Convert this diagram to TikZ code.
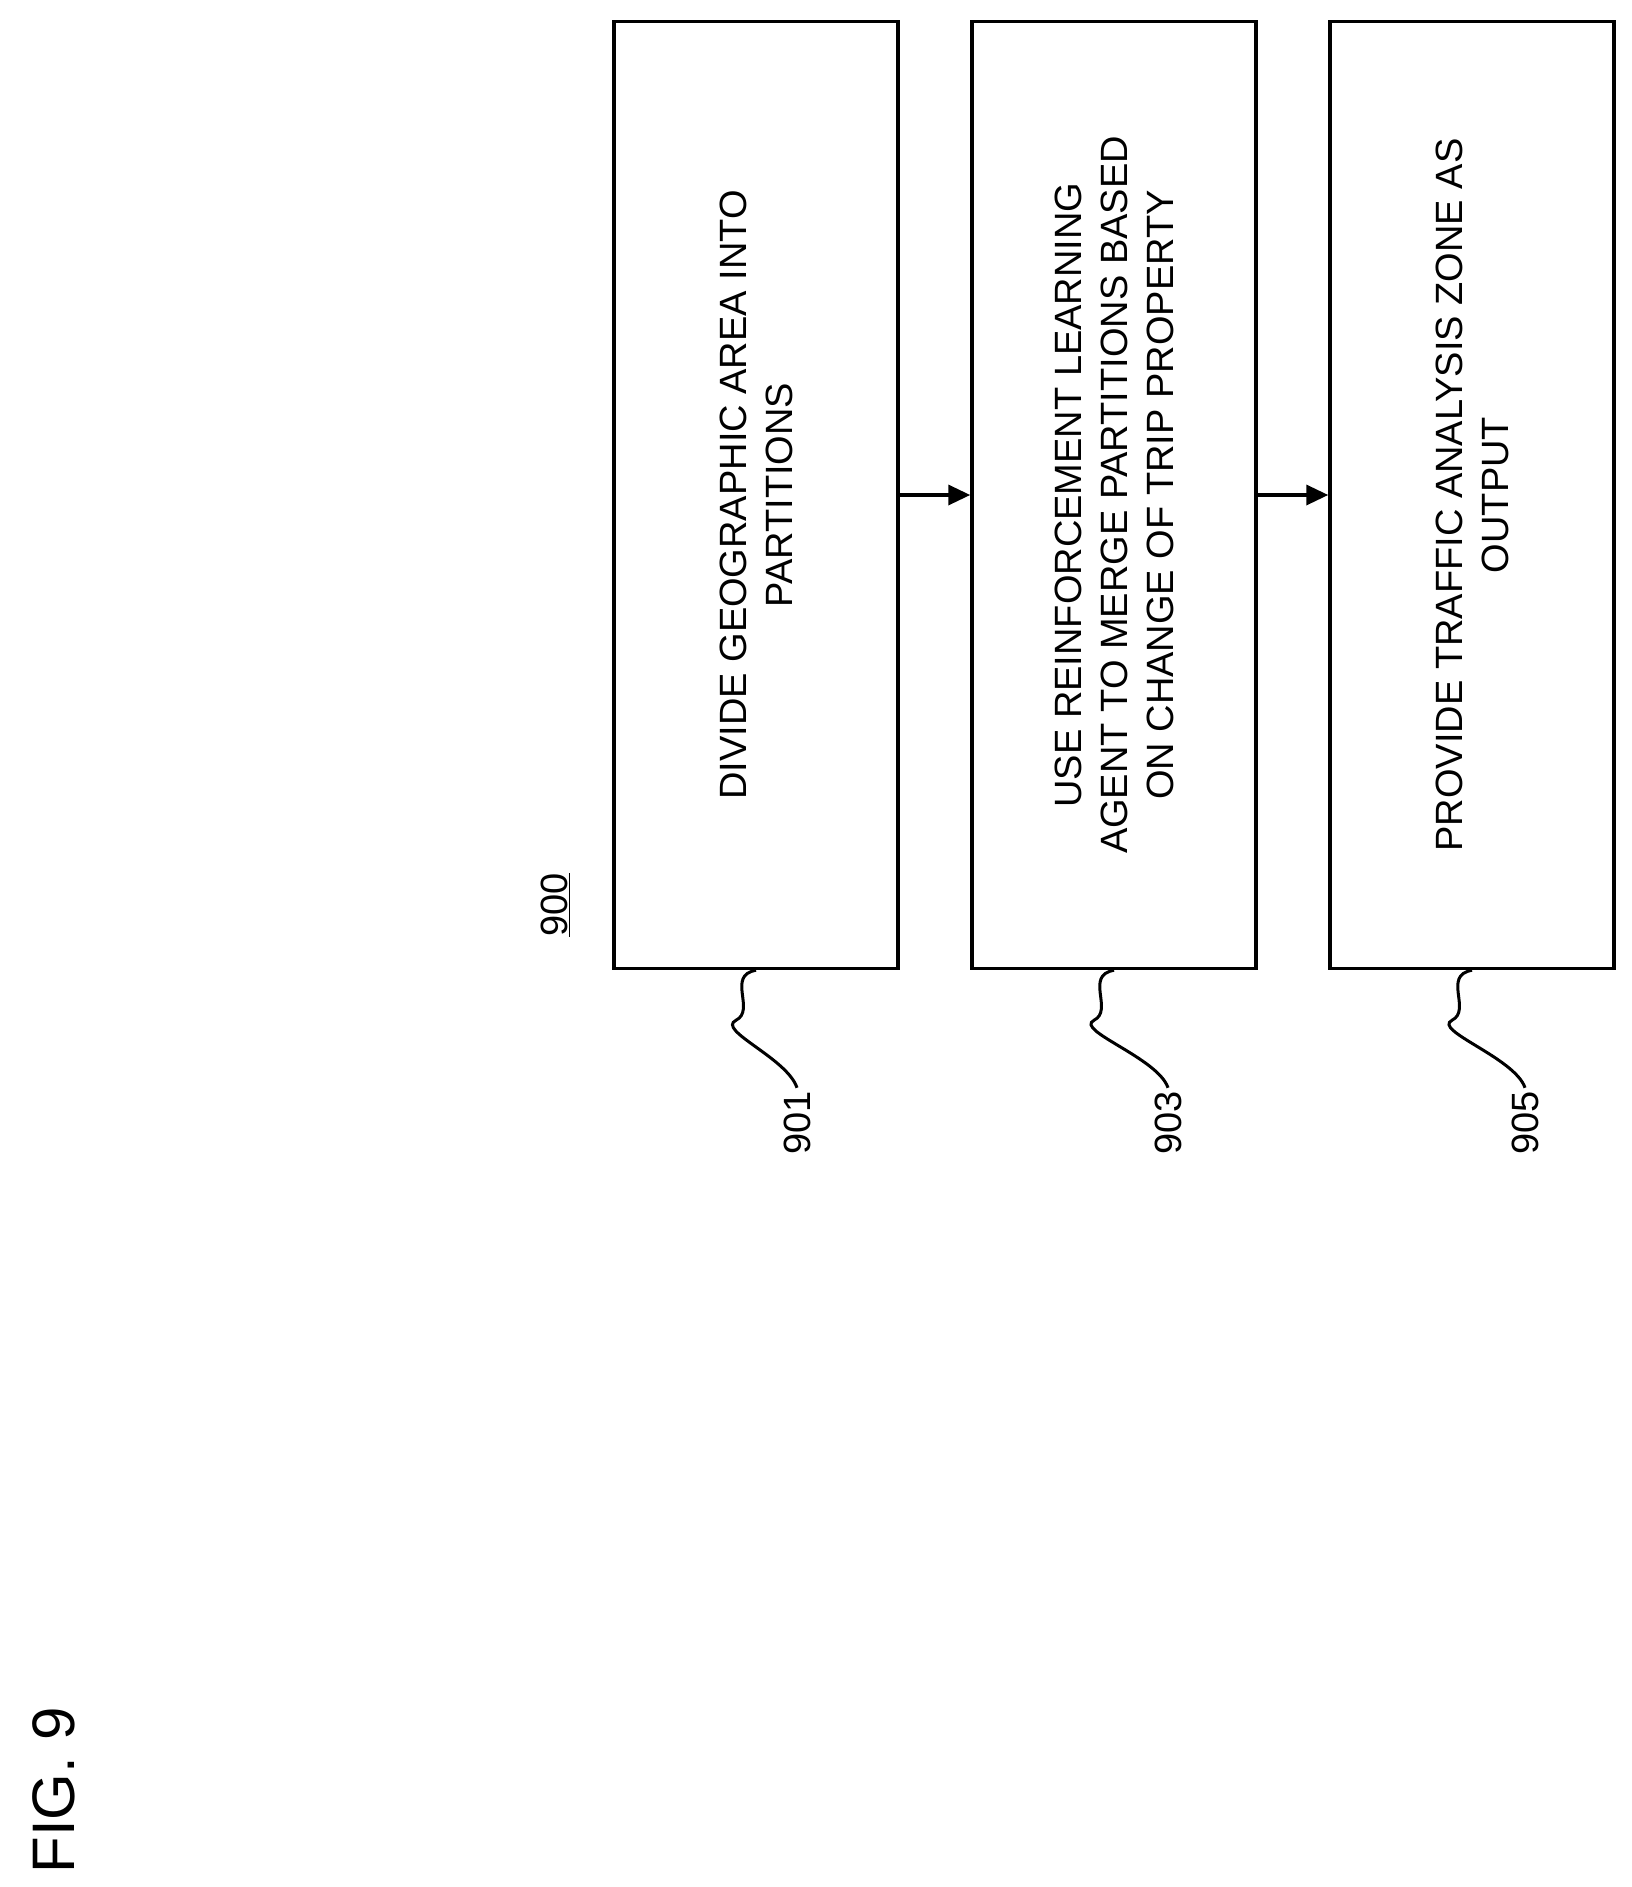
\documentclass[tikz,border=0pt]{standalone}
\usepackage{fontspec}
\setmainfont{Liberation Sans}
\usetikzlibrary{arrows.meta}
\begin{document}
\begin{tikzpicture}[x=1pt,y=-1pt,
  stepbox/.style={draw,line width=3.5pt,minimum width=947pt,minimum height=284pt,rotate=90,align=center,font=\fontsize{38}{46}\selectfont,inner sep=0pt},
  lbl/.style={rotate=90,font=\fontsize{38}{46}\selectfont},
  arr/.style={line width=3.5pt,-{Triangle[length=22pt,width=20pt]}},
  lead/.style={line width=3pt}]
\useasboundingbox (0,0) rectangle (1631,1887);
\node[stepbox] (b1) at (756,495) {DIVIDE GEOGRAPHIC AREA INTO\\PARTITIONS};
\node[stepbox] (b2) at (1114,495) {USE REINFORCEMENT LEARNING\\AGENT TO MERGE PARTITIONS BASED\\ON CHANGE OF TRIP PROPERTY};
\node[stepbox] (b3) at (1472,495) {PROVIDE TRAFFIC ANALYSIS ZONE AS\\OUTPUT};
\draw[arr] (b1.south) -- (b2.north);
\draw[arr] (b2.south) -- (b3.north);
\node[lbl] (l1) at (797,1123) {901};
\node[lbl] (l2) at (1168,1123) {903};
\node[lbl] (l3) at (1525,1123) {905};
\node[lbl,anchor=center] (t900) at (555,905) {\underline{900}};
\node[rotate=90,font=\fontsize{60}{70}\selectfont] (fig) at (54,1790) {FIG. 9};
\foreach \b/\l in {b1/l1,b2/l2,b3/l3}{
  \draw[lead] (\b.west) .. controls +(-30,5) and +(20,-10) .. ++(-20,50) .. controls +(-20,10) and +(-10,-30) .. (\l.east);
}
\end{tikzpicture}
\end{document}
